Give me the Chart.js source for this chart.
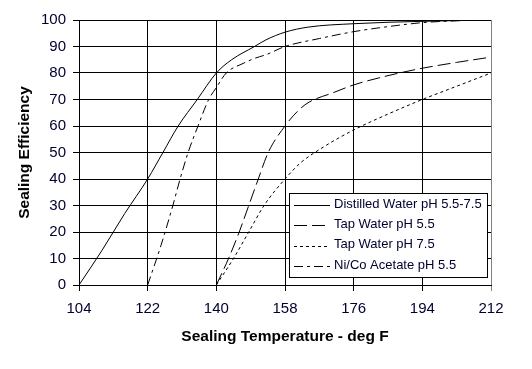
<!DOCTYPE html>
<html>
<head>
<meta charset="utf-8">
<script src="https://cdn.jsdelivr.net/npm/chart.js@4"></script>
<style>
  body { margin: 0; background: #fff; }
</style>
</head>
<body>
<canvas id="chart" width="532" height="369"></canvas>
<script>
// values (deg F -> sealing efficiency)
var labels = ['Distilled Water pH 5.5-7.5', 'Tap Water pH 5.5', 'Tap Water pH 7.5', 'Ni/Co Acetate pH 5.5'];

var distilledX = [104, 110, 116, 122, 126, 130, 135, 140, 144, 150, 153, 158, 164, 176, 194, 212];
var distilledY = [0, 13, 27, 40, 50, 60, 70, 80, 85, 90, 92.5, 95.4, 97.3, 98.6, 99.5, 100];

var tap55X = [140, 143.2, 146, 148.5, 151, 153.6, 158, 161.6, 164.3, 170.5, 176, 185, 194, 203, 212];
var tap55Y = [0, 10, 20, 30, 40, 50, 60, 66, 69, 72.5, 75.5, 79, 81.8, 84, 86];

var tap75X = [140, 144.5, 148.5, 152.5, 158, 162, 168, 176, 185, 194, 203, 212];
var tap75Y = [0, 10, 20, 30, 40, 46, 52, 58.5, 64.5, 70, 75, 80];

var nicoX = [122, 125.5, 128.6, 130.5, 132.6, 135.2, 138, 140, 142.6, 147, 150, 153.2, 158, 167, 176, 185, 194, 203, 212];
var nicoY = [0, 15, 30, 40, 50, 60, 70, 74.5, 80, 83.6, 85.5, 87, 90, 93, 95.6, 97.5, 99, 99.7, 100];

var xTicks = [104, 122, 140, 158, 176, 194, 212];

function pts(xs, ys) {
	var out = [];
	for (var i = 0; i < xs.length; i++) out.push({x: xs[i], y: ys[i]});
	return out;
}

var dashes = [[], [13, 5], [3, 3], [9, 4, 3, 4]];
var series = [pts(distilledX, distilledY), pts(tap55X, tap55Y), pts(tap75X, tap75Y), pts(nicoX, nicoY)];

var datasets = [];
for (var i = 0; i < series.length; i++) {
	datasets.push({
		label: labels[i],
		data: series[i],
		borderColor: '#000',
		borderWidth: 1,
		borderDash: dashes[i],
		pointRadius: 0,
		fill: false,
		cubicInterpolationMode: 'monotone'
	});
}

var tickColor = '#000030';
var fontFam = 'Arial, "Liberation Sans", sans-serif';

// legend box drawn inside the plot, like the original
var boxLegend = {
	id: 'boxLegend',
	afterDraw: function(chart) {
		var c = chart.ctx;
		c.save();
		c.fillStyle = '#fff';
		c.fillRect(289.5, 193.5, 198, 84);
		c.strokeStyle = '#000';
		c.lineWidth = 1;
		c.setLineDash([]);
		c.strokeRect(289.5, 193.5, 198, 84);
		c.font = '13px ' + fontFam;
		c.textBaseline = 'middle';
		c.fillStyle = tickColor;
		chart.data.datasets.forEach(function(ds, k) {
			var y = Math.round(205 + 20.4 * k) + 0.5;
			c.setLineDash(ds.borderDash);
			c.beginPath();
			c.moveTo(294, y);
			c.lineTo(330, y);
			c.stroke();
			c.setLineDash([]);
			c.fillText(ds.label, 334, 204 + 20.4 * k);
		});
		c.restore();
	}
};

new Chart(document.getElementById('chart'), {
	type: 'line',
	data: { datasets: datasets },
	plugins: [boxLegend],
	options: {
		responsive: false,
		animation: false,
		devicePixelRatio: 1,
		layout: { padding: { left: 0, right: 41, top: 20, bottom: 0 } },
		plugins: {
			legend: { display: false },
			tooltip: { enabled: false }
		},
		scales: {
			x: {
				type: 'linear',
				min: 104,
				max: 212,
				afterFit: function(s) { s.height = 84; },
				afterBuildTicks: function(s) { s.ticks = xTicks.map(function(v) { return {value: v}; }); },
				grid: {
					color: function(ctx) { return ctx.tick && ctx.tick.value === 212 ? '#808080' : '#000'; },
					tickLength: 6
				},
				border: { color: '#000' },
				ticks: {
					maxRotation: 0,
					padding: 9,
					color: tickColor,
					font: { family: fontFam, size: 15 }
				},
				title: {
					display: true,
					text: 'Sealing Temperature - deg F',
					color: '#000',
					padding: { top: 0, bottom: 23 },
					font: { family: fontFam, size: 15.5, weight: 'bold' }
				}
			},
			y: {
				min: 0,
				max: 100,
				afterFit: function(s) { s.width = 79; },
				grid: { color: '#000', tickLength: 6 },
				border: { color: '#000' },
				ticks: {
					stepSize: 10,
					padding: 7,
					color: tickColor,
					font: { family: fontFam, size: 15 }
				},
				title: {
					display: true,
					text: 'Sealing Efficiency',
					color: '#000',
					padding: { top: 15, bottom: 0 },
					font: { family: fontFam, size: 15.5, weight: 'bold' }
				}
			}
		}
	}
});
</script>
</body>
</html>
